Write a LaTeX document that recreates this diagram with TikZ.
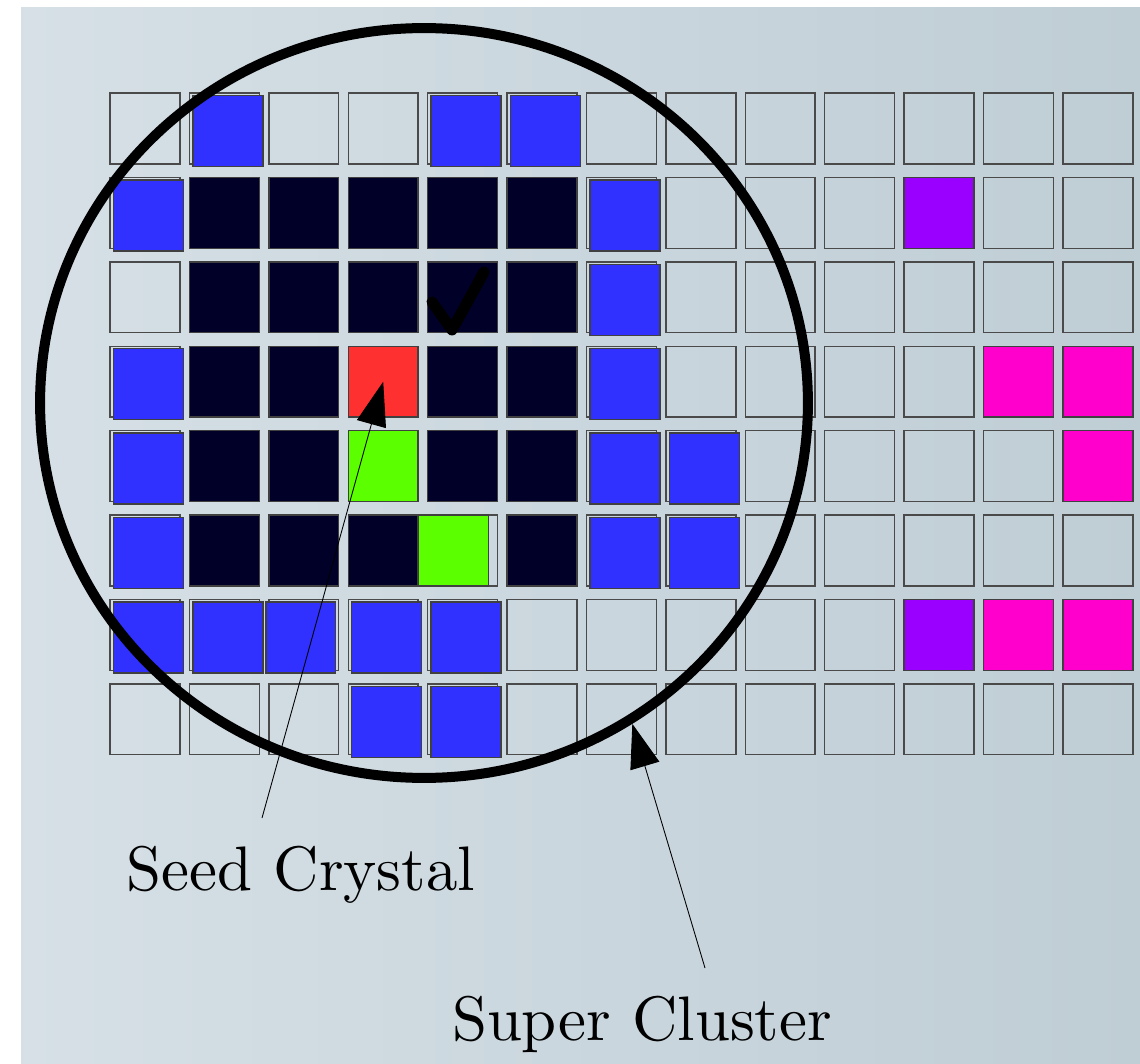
\documentclass[tikz,border=0pt]{standalone}
\usepackage{fontspec}
\usepackage{tikz}
\usetikzlibrary{arrows.meta,shapes.geometric}
\newfontfamily\lblfont{lmroman10-regular}[Extension=.otf]
\definecolor{bgl}{HTML}{D6E0E6}
\definecolor{bgr}{HTML}{BFCDD5}
\definecolor{cellline}{HTML}{4A4A4A}
\definecolor{hitblue}{HTML}{3030FF}
\definecolor{core}{HTML}{000028}
\definecolor{seedred}{HTML}{FF3030}
\definecolor{hitgreen}{HTML}{5CFF00}
\definecolor{hitpurple}{HTML}{9900FF}
\definecolor{hitpink}{HTML}{FF00CC}
\tikzset{
  cell/.style={draw=cellline,line width=0.8pt,minimum width=1.4cm,minimum height=1.42cm,inner sep=0pt,outer sep=0pt},
  hit/.style={cell,draw=black!75,fill=#1},
  bhit/.style={hit=hitblue,xshift=0.07cm,yshift=-0.05cm},
  lbl/.style={font=\lblfont\fontsize{35.8}{40}\selectfont,inner sep=0pt,anchor=base},
  ar/.style={-{Triangle[length=0.88cm,width=0.6cm]},line width=0.5pt},
}

\begin{document}
\begin{tikzpicture}[x=0.02cm,y=-0.02cm]
\useasboundingbox (0,0) rectangle (1140,1064);
\fill[white] (0,0) rectangle (1140,1064);
\fill[left color=bgl,right color=bgr] (21,8) rectangle (1140,1064);
% crystal grid
\foreach \r in {0,...,7}
  \foreach \c in {0,...,12}
    \node[cell] (c-\c-\r) at ({145+79.4*\c},{128.5+84.4*\r}) {};
% hit crystals
\foreach \c/\r in {1/0,4/0,5/0,0/1,6/1,6/2,0/3,6/3,0/4,6/4,7/4,0/5,6/5,7/5,0/6,1/6,3/6,4/6,3/7,4/7}
  \node[bhit] (h-\c-\r) at (c-\c-\r) {};
\node[hit=hitblue,xshift=-0.06cm,yshift=-0.05cm] (h-2-6) at (c-2-6) {};
\foreach \c/\r in {1/1,2/1,3/1,4/1,5/1,1/2,2/2,3/2,4/2,5/2,1/3,2/3,4/3,5/3,1/4,2/4,4/4,5/4,1/5,2/5,3/5,5/5}
  \node[hit=core] (h-\c-\r) at (c-\c-\r) {};
\node[hit=seedred] (h-3-3) at (c-3-3) {};
\node[hit=hitgreen] (h-3-4) at (c-3-4) {};
\node[hit=hitgreen,xshift=-0.18cm] (h-4-5) at (c-4-5) {};
\foreach \c/\r in {10/1,10/6}
  \node[hit=hitpurple] (h-\c-\r) at (c-\c-\r) {};
\foreach \c/\r in {11/3,12/3,12/4,11/6,12/6}
  \node[hit=hitpink] (h-\c-\r) at (c-\c-\r) {};
% super cluster window and check mark
\node[draw,ellipse,line width=0.2cm,inner sep=0pt,minimum width=15.36cm,minimum height=15cm] (sc) at (424,403) {};
\draw[line width=0.22cm,line cap=round,line join=round] (432,302) -- (452,330) -- (484,272);
% labels
\node[lbl] (seed) at (301,890) {Seed Crystal};
\node[lbl] (super) at (642,1040) {Super Cluster};
\coordinate (seedtail) at (262,818);
\coordinate (sctail) at (705,968);
\draw[ar] (seedtail) -- (c-3-3.center);
\draw[ar] (sctail) -- (sc.-57);
\end{tikzpicture}
\end{document}
